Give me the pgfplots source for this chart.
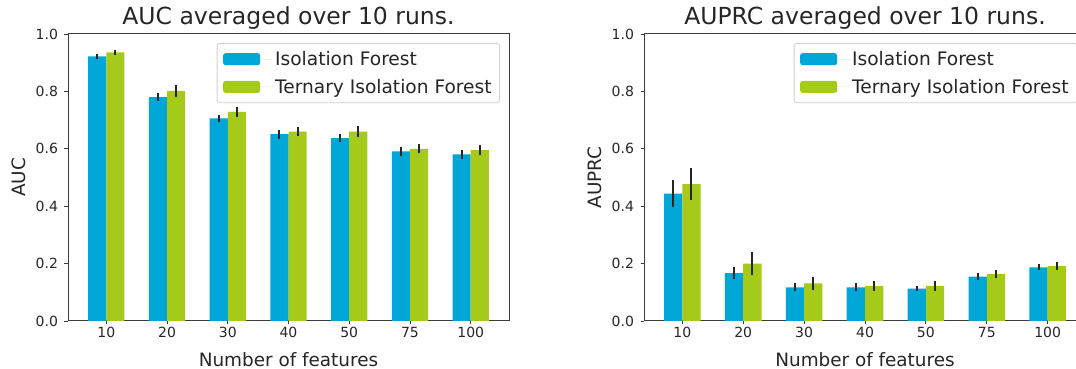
\documentclass[border=0pt]{standalone}
\usepackage{fontspec}
\setmainfont{DejaVu Sans}
\usepackage{pgfplots}
\usepackage{pgfplotstable}
\pgfplotsset{compat=1.18}
\definecolor{ifblue}{RGB}{0,166,214}
\definecolor{tifgreen}{RGB}{166,202,26}
\definecolor{spine}{RGB}{60,60,60}
\definecolor{txt}{RGB}{38,38,38}

\pgfplotstableread{
x IF IFerr TIF TIFerr
0 0.922 0.008 0.936 0.009
1 0.780 0.013 0.802 0.020
2 0.706 0.013 0.729 0.017
3 0.651 0.016 0.660 0.016
4 0.637 0.015 0.660 0.020
5 0.591 0.016 0.600 0.015
6 0.581 0.015 0.595 0.017
}\auc
\pgfplotstableread{
x IF IFerr TIF TIFerr
0 0.444 0.048 0.477 0.055
1 0.167 0.022 0.200 0.040
2 0.117 0.014 0.131 0.022
3 0.117 0.014 0.122 0.016
4 0.113 0.009 0.122 0.016
5 0.155 0.011 0.164 0.015
6 0.187 0.011 0.191 0.013
}\auprc

\pgfplotsset{
  mystyle/.style={
    scale only axis,
    width=442pt, height=287pt,
    anchor=south west,
    xmin=-0.63, xmax=6.63,
    ymin=0, ymax=1,
    xtick={0,1,2,3,4,5,6},
    xticklabels={10,20,30,40,50,75,100},
    ytick={0,0.2,0.4,0.6,0.8,1.0},
    xtick pos=bottom, ytick pos=left,
    tick align=outside,
    major tick length=3.5pt,
    tick style={spine, line width=0.9pt},
    axis line style={spine, line width=1pt},
    ticklabel style={font=\fontsize{14}{16}\selectfont, text=txt},
    /pgf/number format/assume math mode=true,
    yticklabel style={/pgf/number format/fixed, /pgf/number format/fixed zerofill, /pgf/number format/precision=1},
    xticklabel style={anchor=base, yshift=-13pt},
    yticklabel style={anchor=east, xshift=-3pt},
    title style={at={(axis description cs:0.5,1)}, anchor=base, yshift=3pt, font=\fontsize{23.5}{28}\selectfont, text=txt},
    xlabel style={at={(axis description cs:0.5,-0.1568)}, anchor=base, font=\fontsize{18.4}{22}\selectfont, text=txt},
    ylabel style={at={(axis description cs:-0.111,0.5)}, anchor=center, font=\fontsize{18.4}{22}\selectfont, text=txt},
    xlabel={Number of features},
    ybar, bar width=0.3,
    legend cell align=left,
    legend style={at={(axis description cs:1,1)}, anchor=north east, xshift=-9pt, yshift=-9pt,
      draw=black!18, rounded corners=2.5pt, line width=0.8pt,
      font=\fontsize{18.6}{22}\selectfont, text=txt,
      inner xsep=6pt, inner ysep=6pt, row sep=8pt},
    legend image code/.code={\fill[##1] (0pt,-6pt) rectangle (37pt,6pt); \path (0pt,0pt) -- (50pt,0pt);},
    error bars/y dir=both, error bars/y explicit,
    error bars/error mark=none,
    error bars/error bar style={line width=2pt, color=black!85},
  }
}

\begin{document}
\begin{tikzpicture}[x=1pt,y=1pt]
\begin{axis}[mystyle, at={(68pt,48pt)}, width=441pt,
  title={AUC averaged over 10 runs.}, ylabel={AUC}]
\addplot[fill=ifblue, draw=none, bar shift=-0.15] table[x=x, y=IF, y error=IFerr] {\auc};
\addplot[fill=tifgreen, draw=none, bar shift=0.15] table[x=x, y=TIF, y error=TIFerr] {\auc};
\legend{Isolation Forest, Ternary Isolation Forest}
\end{axis}
\begin{axis}[mystyle, at={(644pt,48pt)},
  title={AUPRC averaged over 10 runs.}, ylabel={AUPRC}]
\addplot[fill=ifblue, draw=none, bar shift=-0.15] table[x=x, y=IF, y error=IFerr] {\auprc};
\addplot[fill=tifgreen, draw=none, bar shift=0.15] table[x=x, y=TIF, y error=TIFerr] {\auprc};
\legend{Isolation Forest, Ternary Isolation Forest}
\end{axis}
\pgfresetboundingbox
\path[use as bounding box] (0,0) rectangle (1076,369);
\end{tikzpicture}
\end{document}
